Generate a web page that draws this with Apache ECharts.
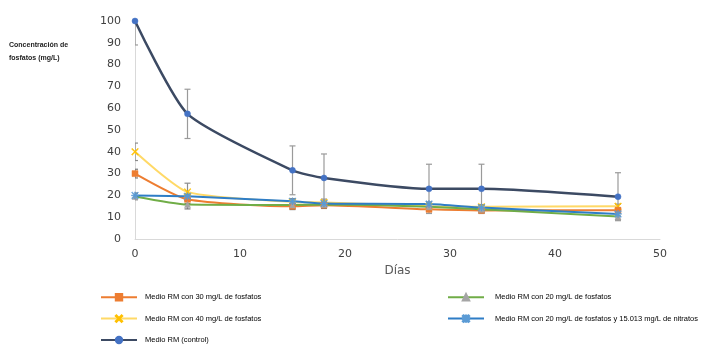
<!DOCTYPE html>
<html><head><meta charset="utf-8">
<script src="https://cdn.jsdelivr.net/npm/echarts@6/dist/echarts.min.js"></script>
<style>html,body{margin:0;padding:0;background:#fff}#c{width:716px;height:356px}</style>
</head><body><div id="c"></div>
<script>
const days = [0, 5, 15, 18, 28, 33, 46];
const s30 = [30, 18.2, 15, 15.5, 13.6, 13.1, 13.2];
const s30Err = [2, 2, 1.5, 1.5, 1, 1, 1];
const s40 = [40, 21.6, 17, 16.8, 15, 14.8, 15];
const s40Err = [4, 4, 1.5, 1.5, 1, 1, 1];
const sCtrl = [100, 57.4, 31.5, 28, 23, 23, 19.4];
const sCtrlErr = [11, 11.3, 11.2, 11, 11.3, 11.3, 11];
const s20 = [19.5, 15.8, 15.6, 15.8, 14.8, 13.6, 10.3];
const s20Err = [1.5, 2, 1.5, 1.5, 1.5, 1.5, 1.5];
const s20N = [20, 19.6, 17.3, 16.3, 16, 14.4, 11.5];
const s20NErr = [1, 1, 1, 1, 1, 1, 1];
const names = ['Medio RM con 30 mg/L de fosfatos', 'Medio RM con 40 mg/L de fosfatos', 'Medio RM (control)',
  'Medio RM con 20 mg/L de fosfatos', 'Medio RM con 20 mg/L de fosfatos y 15.013 mg/L de nitratos'];
const xTicks = [0, 10, 20, 30, 40, 50];
const yTicks = [0, 10, 20, 30, 40, 50, 60, 70, 80, 90, 100];

const xMark = 'path://M0,1L1,0L5,4L9,0L10,1L6,5L10,9L9,10L5,6L1,10L0,9L4,5Z';
const star = 'path://M0,1L1,0L5,4L9,0L10,1L6,5L10,9L9,10L5,6L1,10L0,9L4,5Z M4.4,0L5.6,0L5.6,10L4.4,10Z M0,4.4L10,4.4L10,5.6L0,5.6Z';

function pts(v){ return days.map((d,i)=>[d, v[i]]); }
function errData(v, e){ return days.map((d,i)=>[d, v[i]-e[i], v[i]+e[i]]); }
function errSeries(v, e, color){
  return {
    type: 'custom', silent: true, z: 1,
    data: errData(v, e),
    encode: {x: 0, y: [1, 2]},
    clip: true,
    renderItem: function(params, api){
      const x = api.value(0);
      const lo = api.coord([x, api.value(1)]);
      const hi = api.coord([x, api.value(2)]);
      const w = 3;
      const st = {stroke: color, lineWidth: 1.2};
      return {type: 'group', children: [
        {type: 'line', shape: {x1: lo[0], y1: lo[1], x2: hi[0], y2: hi[1]}, style: st},
        {type: 'line', shape: {x1: lo[0]-w, y1: lo[1], x2: lo[0]+w, y2: lo[1]}, style: st},
        {type: 'line', shape: {x1: hi[0]-w, y1: hi[1], x2: hi[0]+w, y2: hi[1]}, style: st}
      ]};
    }
  };
}
function lineSeries(name, v, color, symbol, size, mColor, width){
  return {
    name: name, type: 'line', data: pts(v), smooth: 0.2, z: 3,
    symbol: symbol, symbolSize: size, showSymbol: true,
    lineStyle: {color: color, width: width || 2},
    itemStyle: {color: mColor || color, borderColor: mColor || color, borderWidth: 0.5},
    emphasis: {disabled: true}
  };
}
const legendText = {fontFamily: "'Liberation Sans', Arial, sans-serif", fontSize: 7.5, color: '#000', padding: [0, 0, 0, 3]};

const chart = echarts.init(document.getElementById('c'), null, {renderer: 'canvas'});
chart.setOption({
  animation: false,
  backgroundColor: '#fff',
  grid: {left: 135, right: 56, top: 21, bottom: 117, containLabel: false},
  xAxis: {
    type: 'value', min: 0, max: 50, interval: 10,
    name: 'Días', nameLocation: 'middle', nameGap: 19,
    nameTextStyle: {color: '#595959', fontSize: 12, fontFamily: "'DejaVu Sans', sans-serif"},
    axisLine: {show: true, lineStyle: {color: '#D9D9D9', width: 1}},
    axisTick: {show: false}, splitLine: {show: false},
    axisLabel: {color: '#404040', fontSize: 11, margin: 10, fontFamily: "'DejaVu Sans', sans-serif",
      formatter: v => xTicks.includes(v) ? String(v) : ''}
  },
  yAxis: {
    type: 'value', min: 0, max: 100, interval: 10,
    axisLine: {show: true, lineStyle: {color: '#D9D9D9', width: 1}},
    axisTick: {show: false}, splitLine: {show: false},
    axisLabel: {color: '#404040', fontSize: 11, margin: 14, fontFamily: "'DejaVu Sans', sans-serif",
      formatter: v => yTicks.includes(v) ? String(v) : ''}
  },
  legend: [
    {data: [names[0], names[1], names[2]], orient: 'vertical', left: 95, top: 288, itemGap: 13,
      itemWidth: 36, itemHeight: 8, textStyle: legendText, selectedMode: false},
    {data: [names[3], names[4]], orient: 'vertical', left: 442, top: 288, itemGap: 13,
      itemWidth: 36, itemHeight: 8, textStyle: Object.assign({}, legendText, {padding: [0, 0, 0, 6]}), selectedMode: false}
  ],
  graphic: [
    {type: 'text', left: 9, top: 39, style: {text: 'Concentración de\nfosfatos (mg/L)', lineHeight: 13,
      font: "bold 7px 'Liberation Sans', Arial, sans-serif", fill: '#222'}}
  ],
  series: [
    errSeries(s40, s40Err, '#8c8c8c'),
    errSeries(s30, s30Err, '#7a7a7a'),
    errSeries(s20, s20Err, '#7a7a7a'),
    errSeries(s20N, s20NErr, '#7a7a7a'),
    errSeries(sCtrl, sCtrlErr, '#9a9a9a'),
    lineSeries(names[1], s40, '#FFD966', xMark, 7, '#FFC000'),
    lineSeries(names[0], s30, '#ED7D31', 'rect', 6),
    lineSeries(names[3], s20, '#70AD47', 'triangle', 6, '#A5A5A5'),
    lineSeries(names[4], s20N, '#2E7DC6', star, 7, '#5B9BD5'),
    lineSeries(names[2], sCtrl, '#3C4A63', 'circle', 6, '#4472C4', 2.5)
  ]
});
</script></body></html>
